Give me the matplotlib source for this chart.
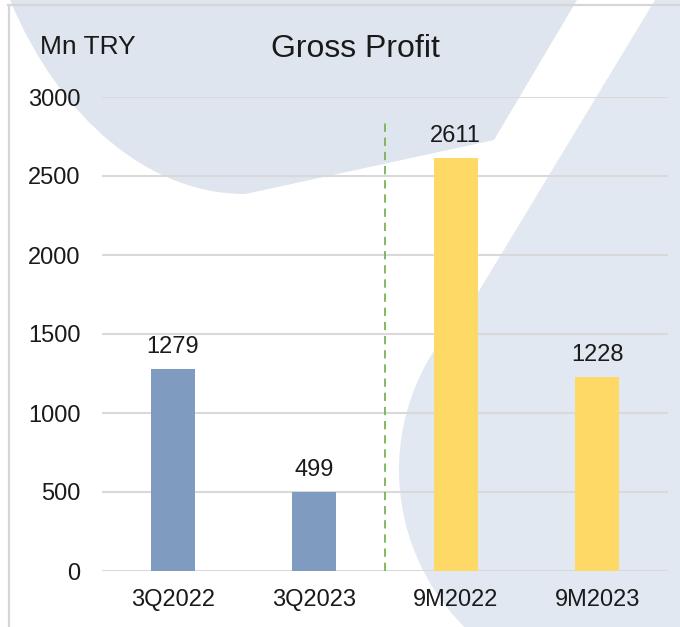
import numpy as np
import matplotlib.pyplot as plt
from matplotlib.patches import Polygon, Circle, PathPatch
from matplotlib.path import Path
from matplotlib.lines import Line2D

plt.rcParams['font.family'] = ['Liberation Sans', 'DejaVu Sans']

# data
categories = ['3Q2022', '3Q2023', '9M2022', '9M2023']
values = [1279, 499, 2611, 1228]
bar_colors = ['#7F9BC0', '#7F9BC0', '#FFD966', '#FFD966']
yticks = [0, 500, 1000, 1500, 2000, 2500, 3000]

W, H = 680, 627
fig = plt.figure(figsize=(W / 100, H / 100), dpi=100)

# pixel (from top-left) -> figure fraction
def px(x, y):
    return (x / W, 1 - y / H)

verts = [(10, 0), (60, 120), (150, 194), (245, 194), (250, 193), (494, 140), (577, 0), (10, 0)]
codes = [Path.MOVETO, Path.CURVE4, Path.CURVE4, Path.CURVE4,
         Path.LINETO, Path.LINETO, Path.LINETO, Path.CLOSEPOLY]
shape1 = Path([px(*v) for v in verts], codes)
fig.patches.append(PathPatch(shape1, transform=fig.transFigure,
                             facecolor='#DFE5EE', edgecolor='none', zorder=-2))

shape2 = [(655, 0), (680, 0), (680, 627), (620, 627), (620, 470), (413, 400)]
fig.patches.append(Polygon([px(*p) for p in shape2], closed=True, transform=fig.transFigure,
                           facecolor='#E2E8F1', edgecolor='none', zorder=-2))
fig.patches.append(Circle((620, H - 470), 221, transform=None,
                          facecolor='#E2E8F1', edgecolor='none', zorder=-2))

# thin frame lines (top and left)
fig.lines.append(Line2D([8 / W, 1], [1 - 5 / H, 1 - 5 / H], transform=fig.transFigure,
                        color='#D6D6D6', lw=1.6, zorder=-1))
fig.lines.append(Line2D([9 / W, 9 / W], [0, 1 - 5 / H], transform=fig.transFigure,
                        color='#D6D6D6', lw=1.6, zorder=-1))

# axes placed on the gridline area
ax = fig.add_axes([102 / W, 1 - 571 / H, (668 - 102) / W, (571 - 97) / H])
ax.set_facecolor('none')
x = np.arange(len(categories))
ax.bar(x, values, width=0.31, color=bar_colors, zorder=3)

for xi, v in zip(x, values):
    ax.annotate(str(v), (xi, v), xytext=(0, 11.5), textcoords='offset points',
                ha='center', va='baseline', fontsize=17, color='#1A1A1A')

ax.axvline(1.5, ymin=0, ymax=2842 / 3000, color='#70AD47', lw=1.2, ls=(0, (5, 3.5)), zorder=2)

ax.set_xlim(-0.5, 3.5)
ax.set_ylim(0, 3000)
ax.set_yticks(yticks)
ax.set_xticks(x)
ax.set_xticklabels(categories)
ax.yaxis.grid(True, color='#D9D9D9', lw=1.5)
ax.set_axisbelow(True)
for s in ax.spines.values():
    s.set_visible(False)
ax.tick_params(axis='y', length=0, pad=15.5, labelsize=17, labelcolor='#1A1A1A')
ax.tick_params(axis='x', length=0, pad=13, labelsize=17, labelcolor='#1A1A1A')

fig.text(40 / W, 1 - 54 / H, 'Mn TRY', fontsize=19, va='baseline', ha='left', color='#1A1A1A')
fig.text(355 / W, 1 - 57 / H, 'Gross Profit', fontsize=23, va='baseline', ha='center', color='#1A1A1A')

fig.savefig('out.png', dpi=100)
